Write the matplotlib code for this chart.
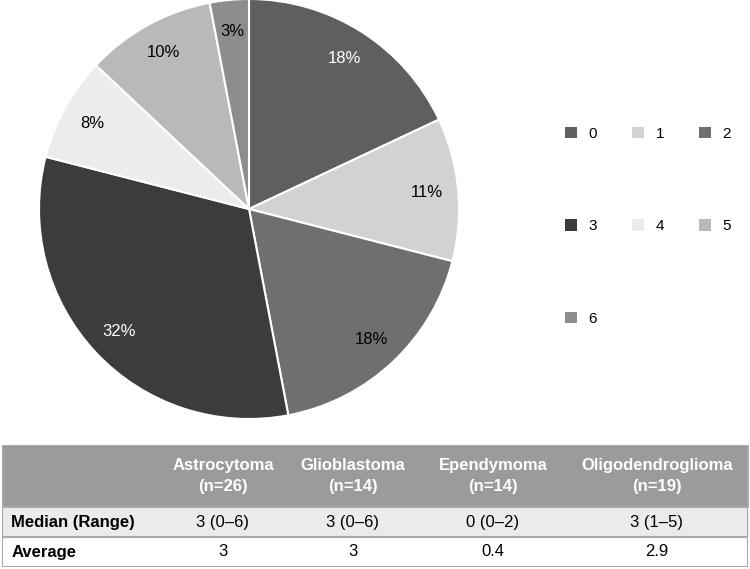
import matplotlib
matplotlib.use('Agg')
import matplotlib.pyplot as plt
from matplotlib.patches import Patch

plt.rcParams['font.family'] = ['Liberation Sans', 'DejaVu Sans']

# Pie data (share of patients per score)
labels = ['0', '1', '2', '3', '4', '5', '6']
shares = [18, 11, 18, 32, 8, 10, 3]
slice_colors = ['#5f5f61', '#d2d2d2', '#6f6f72', '#3c3c3c', '#ececec', '#b9b9bb', '#8d8d8f']
pct_colors = ['white', 'black', 'black', 'white', 'black', 'black', 'black']

# Table data
col_heads = ['', 'Astrocytoma\n(n=26)', 'Glioblastoma\n(n=14)', 'Ependymoma\n(n=14)', 'Oligodendroglioma\n(n=19)']
median_row = ['Median (Range)', '3 (0\u20136)', '3 (0\u20136)', '0 (0\u20132)', '3 (1\u20135)']
average_row = ['Average', '3', '3', '0.4', '2.9']

fig = plt.figure(figsize=(7.5, 5.69), dpi=100)

# pie
ax = fig.add_axes([39/750, (569-419)/569, 420/750, 420/569])
wedges, texts, autotexts = ax.pie(shares, colors=slice_colors, startangle=90, counterclock=False,
                                  autopct='%d%%', pctdistance=0.85, radius=1.0,
                                  wedgeprops=dict(edgecolor='white', linewidth=1.5),
                                  textprops=dict(fontsize=12))
for t, c in zip(autotexts, pct_colors):
    t.set_color(c)
ax.set_xlim(-1, 1)
ax.set_ylim(-1, 1)
ax.set_aspect('equal')

# legend laid out row by row (matplotlib fills columns first)
order = [0, 3, 6, 1, 4, 2, 5]
handles = [Patch(facecolor=slice_colors[i], edgecolor='none') for i in order]
fig.legend(handles, [labels[i] for i in order], ncol=3, loc='upper left',
           bbox_to_anchor=(565/750, 1 - 127/569),
           frameon=False, fontsize=11, handlelength=0.78, handleheight=0.78, handletextpad=0.75,
           columnspacing=2.3, labelspacing=5.13, borderpad=0, borderaxespad=0)

# table
tax = fig.add_axes([2/750, 2/569, 746/750, 122/569])
tax.set_xlim(0, 1)
tax.set_ylim(0, 1)
tax.axis('off')
rows = [col_heads, median_row, average_row]
widths = [158, 126, 134, 146, 182]
tot_w = sum(widths)
heights = [62, 30, 30]
tot_h = sum(heights)
row_bg = ['#9b9b9b', '#ebebeb', 'white']
line_col = '#aaaaaa'

tbl = tax.table(cellText=rows, cellLoc='center', bbox=[0, 0, 1, 1])
tbl.auto_set_font_size(False)
for (r, c), cell in tbl.get_celld().items():
    cell.set_width(widths[c] / tot_w)
    cell.set_height(heights[r] / tot_h)
    cell.set_facecolor(row_bg[r])
    cell.set_edgecolor(row_bg[r])
    cell.set_linewidth(0.5)
    txt = cell.get_text()
    txt.set_fontsize(12)
    if r == 0:
        txt.set_color('white')
        txt.set_fontweight('bold')
        txt.set_linespacing(1.45)
    if c == 0:
        cell._loc = 'left'
        cell.PAD = 0.06
        txt.set_horizontalalignment('left')
        txt.set_fontweight('bold')

# horizontal rules and outer frame
y = 1.0
tax.axhline(y, color=line_col, lw=1.5)
for h in heights:
    y -= h / tot_h
    tax.axhline(y, color=line_col, lw=1.5)
tax.axvline(0, color=line_col, lw=1.5)
tax.axvline(1, color=line_col, lw=1.5)

fig.savefig('out.png', dpi=100)
